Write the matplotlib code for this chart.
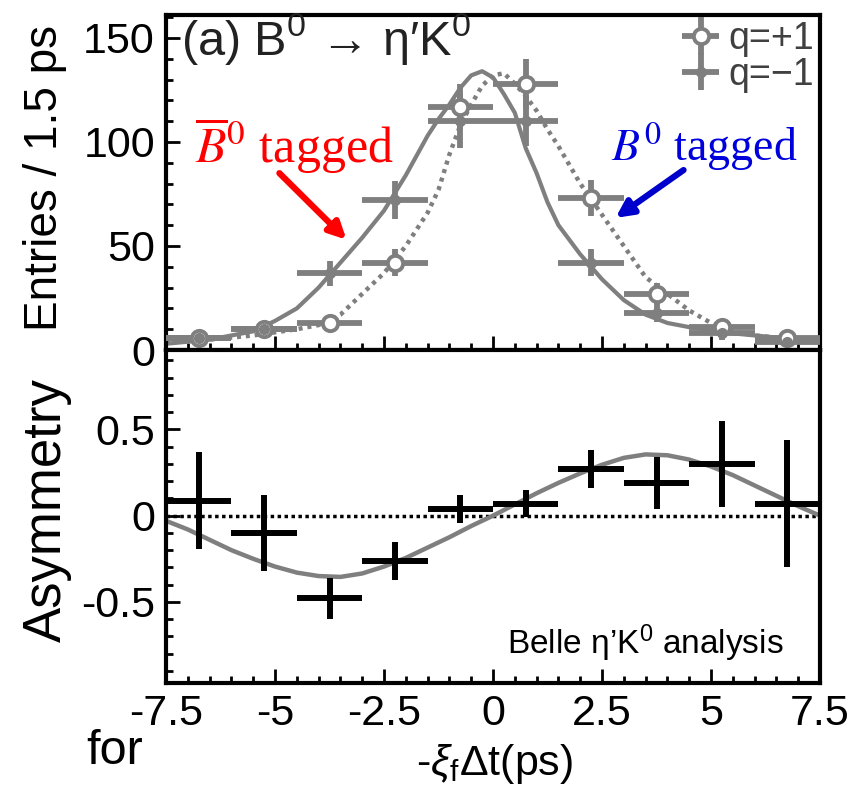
import matplotlib
matplotlib.use('Agg')
import matplotlib.pyplot as plt
from matplotlib.ticker import MultipleLocator, FixedLocator, FixedFormatter

plt.rcParams['font.family'] = ['Liberation Sans', 'DejaVu Sans']
plt.rcParams['mathtext.fontset'] = 'custom'
plt.rcParams['mathtext.rm'] = 'Liberation Sans'
plt.rcParams['mathtext.it'] = 'Liberation Sans:italic'
plt.rcParams['mathtext.sf'] = 'Liberation Sans'
plt.rcParams['axes.unicode_minus'] = False

# ---------------- data ----------------
bin_centers = [-6.75, -5.25, -3.75, -2.25, -0.75, 0.75, 2.25, 3.75, 5.25, 6.75]
bin_half_width = 0.75

entries_qplus = [6, 10, 13, 42, 117, 128, 73, 27, 11, 6]
err_qplus = [2.5, 3, 3.5, 6.5, 11, 12, 8.5, 5, 3.3, 2.5]
entries_qminus = [6, 10, 37, 72, 110, 110, 42, 18, 8, 4]
err_qminus = [2.5, 3, 6, 9, 13, 12, 6.5, 4.5, 3, 2]

fit_t = [-7.5, -7.0, -6.5, -6.0, -5.5, -5.0, -4.5, -4.0, -3.5, -3.0, -2.5, -2.0,
         -1.5, -1.25, -1.0, -0.75, -0.5, -0.25, 0.0, 0.25, 0.5, 0.75, 1.0, 1.25,
         1.5, 2.0, 2.5, 3.0, 3.5, 4.0, 4.5, 5.0, 5.5, 6.0, 6.5, 7.0, 7.5]
fit_qminus = [3, 4, 5, 7, 9, 14, 20, 30, 42, 54, 67, 84,
              103, 111, 118, 126, 132, 134, 131, 123, 114, 97, 85, 71,
              60, 46, 34, 24, 17, 13, 11, 9.5, 8, 7, 6, 5, 5]
fit_qplus = [4, 4.5, 5, 6, 7, 8.5, 10, 12, 17, 27, 37, 50,
             66, 77, 94, 108, 118, 127, 132, 133, 128, 122, 115, 106,
             98, 80, 65, 50, 35, 27, 19, 13, 9, 7, 6, 5, 4.5]

asym = [0.087, -0.10, -0.48, -0.26, 0.04, 0.07, 0.27, 0.19, 0.30, 0.07]
asym_err = [0.28, 0.22, 0.12, 0.11, 0.08, 0.08, 0.11, 0.15, 0.25, 0.37]

asym_fit_t = [-7.5, -7.0, -6.5, -6.0, -5.5, -5.0, -4.5, -4.0, -3.5, -3.0, -2.5,
              -2.0, -1.5, -1.0, -0.5, 0.0, 0.5, 1.0, 1.5, 2.0, 2.5, 3.0, 3.5,
              4.0, 4.5, 5.0, 5.5, 6.0, 6.5, 7.0, 7.5]
asym_fit = [-0.03, -0.08, -0.14, -0.20, -0.25, -0.295, -0.33, -0.35, -0.355,
            -0.335, -0.295, -0.245, -0.185, -0.125, -0.06, 0.0, 0.065, 0.13,
            0.19, 0.245, 0.295, 0.335, 0.355, 0.35, 0.325, 0.285, 0.235,
            0.175, 0.115, 0.055, 0.0]

x_ticks = [-7.5, -5, -2.5, 0, 2.5, 5, 7.5]
x_ticklabels = ['-7.5', '-5', '-2.5', '0', '2.5', '5', '7.5']
top_yticks = [0, 50, 100, 150]
top_yticklabels = ['0', '50', '100', '150']
bot_yticks = [-0.5, 0, 0.5]
bot_yticklabels = ['-0.5', '0', '0.5']

# ---------------- figure ----------------
gray = '#7f7f7f'
fig = plt.figure(figsize=(8.67, 7.91), dpi=100)
ax1 = fig.add_axes([0.1915, 0.5575, 0.7543, 0.4235])
ax2 = fig.add_axes([0.1915, 0.1365, 0.7543, 0.421])

TICK_FS = 31

for ax in (ax1, ax2):
    ax.set_xlim(-7.5, 7.5)
    for s in ax.spines.values():
        s.set_linewidth(3)
    ax.xaxis.set_major_locator(FixedLocator(x_ticks))
    ax.xaxis.set_minor_locator(MultipleLocator(0.5))
    ax.tick_params(which='both', direction='in', top=False, right=False,
                   width=2, labelsize=TICK_FS, pad=8)
    ax.tick_params(which='major', length=10)
    ax.tick_params(which='minor', length=5)

# top panel
ax1.plot(fit_t, fit_qminus, color=gray, lw=3, zorder=2)
ax1.plot(fit_t, fit_qplus, color=gray, lw=3.2, ls=(0, (0.9, 1.1)), zorder=2)
h_plus = ax1.errorbar(bin_centers, entries_qplus, xerr=bin_half_width, yerr=err_qplus,
                      fmt='o', ms=11, mfc='white', mec=gray, mew=2.8,
                      ecolor=gray, elinewidth=4.2, capsize=0, label='q=+1', zorder=3)
h_minus = ax1.errorbar(bin_centers, entries_qminus, xerr=bin_half_width, yerr=err_qminus,
                       fmt='o', ms=7, mfc=gray, mec=gray,
                       ecolor=gray, elinewidth=4.2, capsize=0, label='q=\u22121', zorder=3)
ax1.set_ylim(0, 161)
ax1.yaxis.set_major_locator(FixedLocator(top_yticks))
ax1.yaxis.set_major_formatter(FixedFormatter(top_yticklabels))
ax1.yaxis.set_minor_locator(MultipleLocator(10))
ax1.tick_params(labelbottom=False)

leg = ax1.legend(handles=[h_plus, h_minus], loc='upper right', frameon=False,
                 fontsize=27, labelspacing=0.0, handlelength=1.1,
                 handletextpad=0.2, borderaxespad=0.15, borderpad=0.0)
for t in leg.get_texts():
    t.set_color('#404040')

ax1.text(-7.15, 142, '(a) B$^{0}$ \u2192 \u03b7\u2032K$^{0}$', fontsize=35,
         ha='left', va='baseline', color='#222222')

ax1.text(-6.84, 90, r'$\overline{B}^0$ tagged', fontsize=36, color='red',
         family='Liberation Serif', math_fontfamily='stix', ha='left', va='baseline')
ax1.text(2.7, 91, r'$B^0$ tagged', fontsize=33, color='#0000dd',
         family='Liberation Serif', math_fontfamily='stix', ha='left', va='baseline')
ax1.annotate('', xy=(-3.36, 53), xytext=(-4.9, 85),
             arrowprops=dict(arrowstyle='-|>,head_length=1.0,head_width=0.5',
                             color='red', lw=4.5, shrinkA=0, shrinkB=0))
ax1.annotate('', xy=(2.81, 63.5), xytext=(4.37, 86.5),
             arrowprops=dict(arrowstyle='-|>,head_length=1.0,head_width=0.5',
                             color='#0000cc', lw=4.5, shrinkA=0, shrinkB=0))

# bottom panel
ax2.axhline(0, color='black', lw=2.5, ls=(0, (1, 1)), zorder=1)
ax2.plot(asym_fit_t, asym_fit, color=gray, lw=3.2, zorder=2)
ax2.errorbar(bin_centers, asym, xerr=bin_half_width, yerr=asym_err, fmt='none',
             ecolor='black', elinewidth=4.3, capsize=0, zorder=3)
ax2.set_ylim(-0.97, 0.96)
ax2.yaxis.set_major_locator(FixedLocator(bot_yticks))
ax2.yaxis.set_major_formatter(FixedFormatter(bot_yticklabels))
ax2.yaxis.set_minor_locator(MultipleLocator(0.1))
ax2.xaxis.set_major_formatter(FixedFormatter(x_ticklabels))
ax2.text(6.66, -0.8, 'Belle \u03b7\u2019K$^{0}$ analysis', fontsize=24,
         ha='right', va='baseline')

# axis labels
fig.text(0.052, 0.775, 'Entries / 1.5 ps', rotation=90, fontsize=33,
         ha='center', va='center')
fig.text(0.054, 0.355, 'Asymmetry', rotation=90, fontsize=38,
         ha='center', va='center')
fig.text(0.57, 0.034, r'-$\xi_{\mathrm{f}}\Delta$t(ps)', fontsize=31,
         ha='center', va='center')
fig.text(0.1, 0.05, 'for', fontsize=35, ha='left', va='center')

fig.savefig('out.png', dpi=100)
